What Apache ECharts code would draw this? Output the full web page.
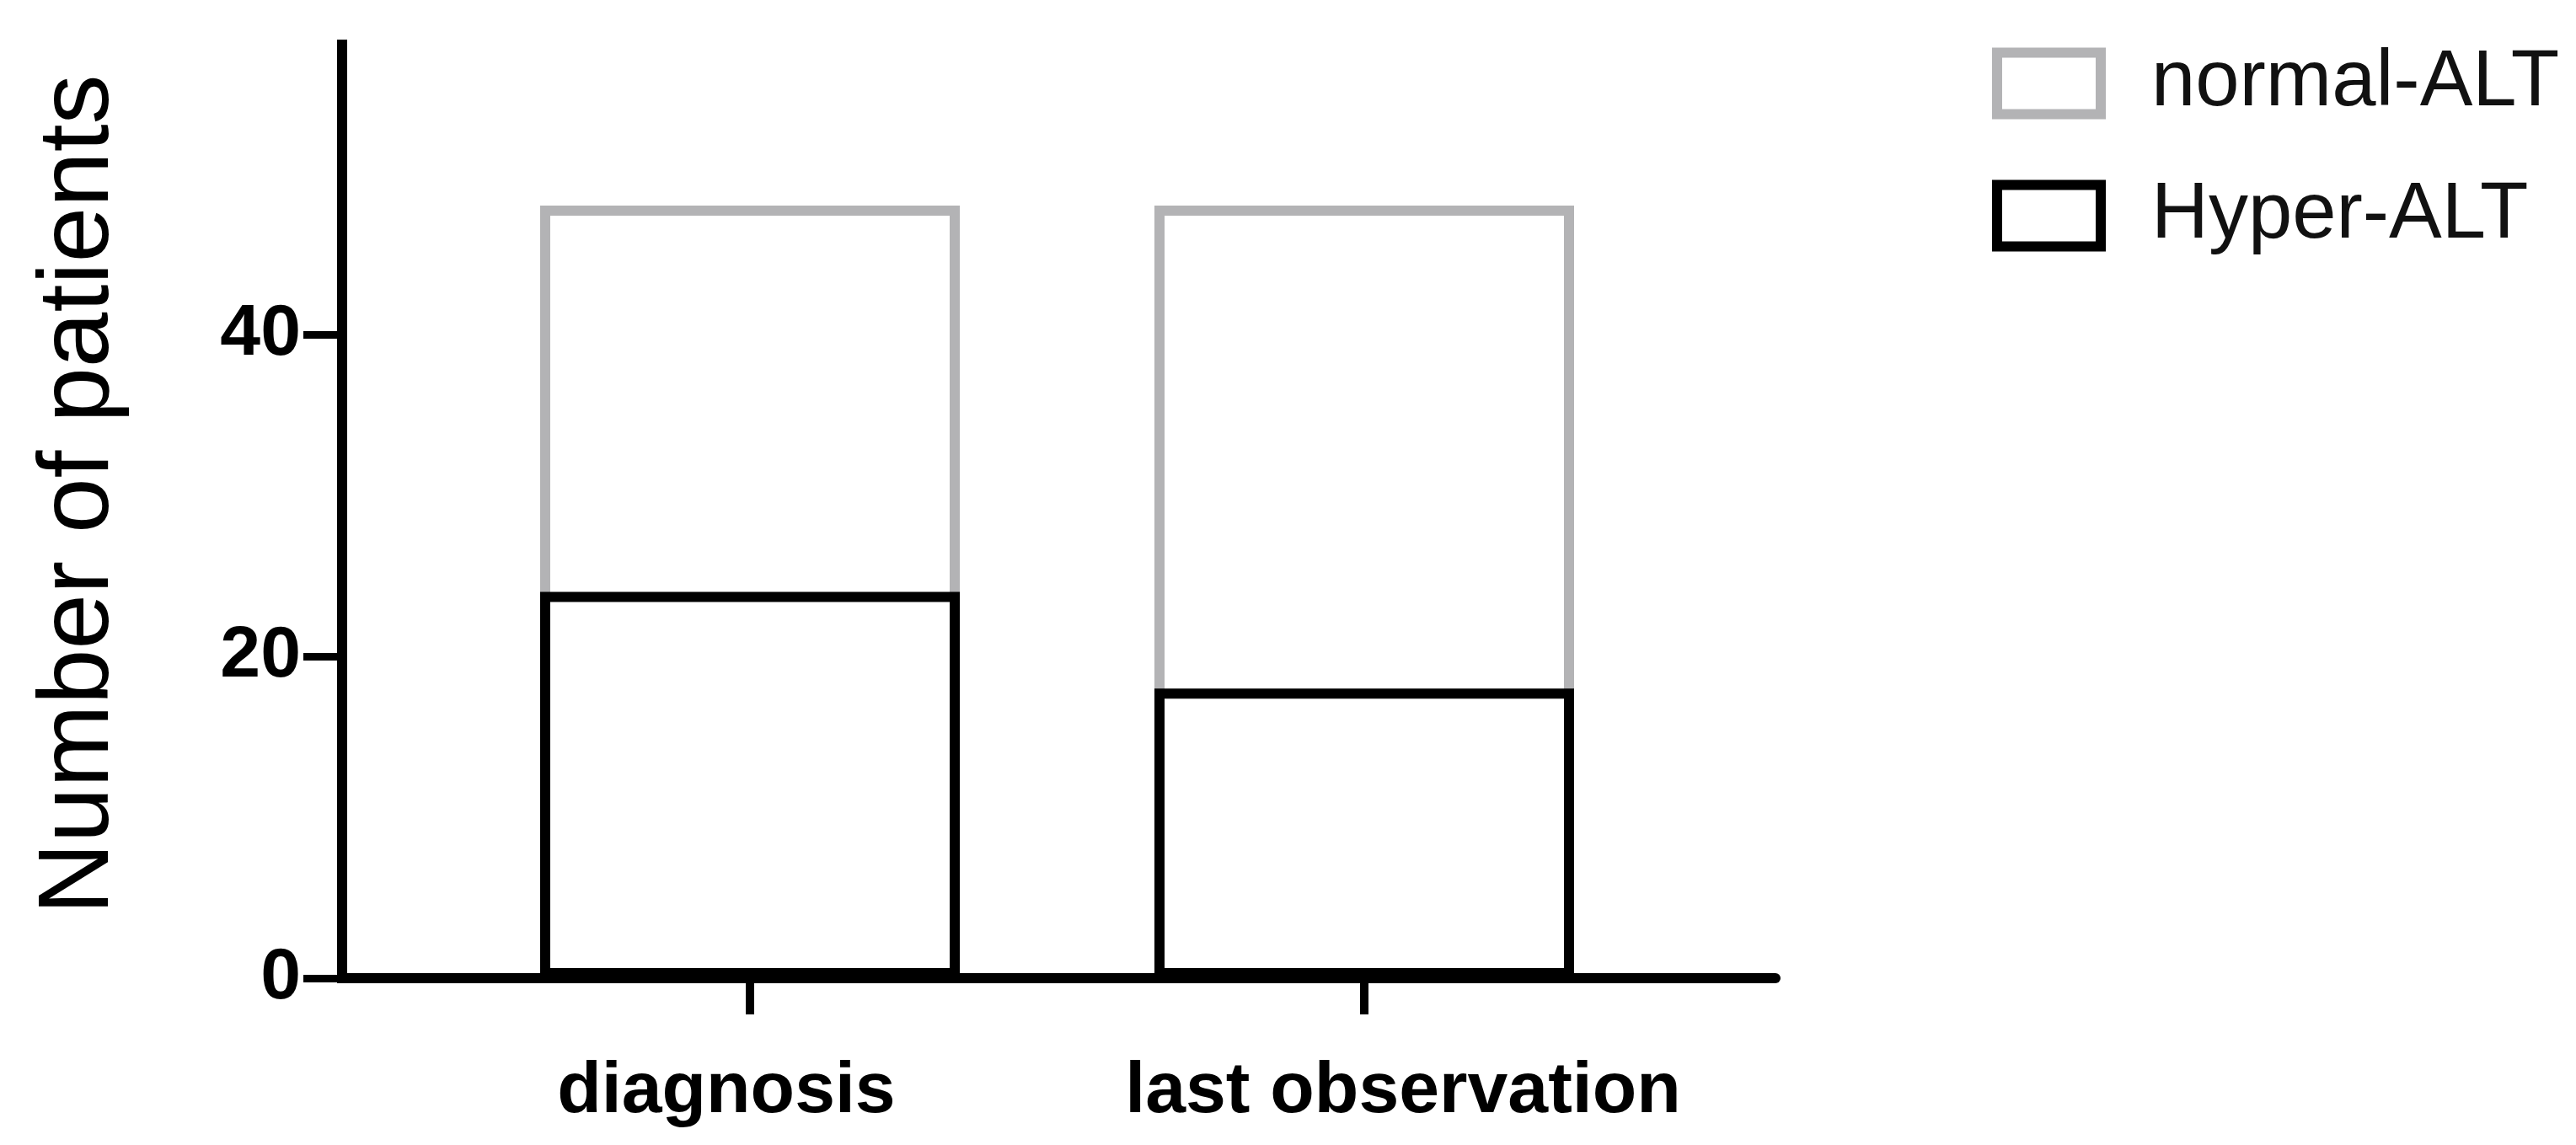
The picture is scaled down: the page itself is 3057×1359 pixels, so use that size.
<!DOCTYPE html>
<html>
<head>
<meta charset="utf-8">
<script src="https://cdn.jsdelivr.net/npm/echarts@6/dist/echarts.min.js"></script>
<style>
  html, body { margin: 0; padding: 0; background: #ffffff; }
  #chart { width: 3057px; height: 1359px; }
</style>
</head>
<body>
<div id="chart"></div>
<script>
// ---- data ----
const categories = ['diagnosis', 'last observation'];
const hyperALT = [24, 18];        // black bars
const normalALT = [24, 30];       // grey part above the black bars
const yTickValues = [0, 20, 40];
const yAxisMax = 58;
const seriesNames = ['normal-ALT', 'Hyper-ALT'];

// grey outline spans the whole group (normal + hyper); the black bar is drawn over it
const totals = categories.map((_, i) => hyperALT[i] + normalALT[i]);

const FONT = "'Liberation Sans', Arial, sans-serif";
const GREY = '#b3b3b5';
const BLACK = '#000000';

const chart = echarts.init(document.getElementById('chart'), null, { renderer: 'canvas' });

const option = {
  backgroundColor: '#ffffff',
  animation: false,
  grid: [
    { left: 525.5, right: 1073.5, top: 53, bottom: 198, containLabel: false },
    { left: 406, right: 950, top: 53, bottom: 198, containLabel: false }
  ],
  legend: {
    orient: 'vertical',
    left: 2359,
    top: 47,
    icon: 'rect',
    itemWidth: 123,
    itemHeight: 73,
    itemGap: 63,
    selectedMode: false,
    textStyle: {
      fontFamily: FONT,
      fontSize: 94,
      color: '#111111',
      lineHeight: 70,
      padding: [0, 0, 0, 55]
    },
    data: [
      { name: seriesNames[0], itemStyle: { color: '#ffffff', borderColor: GREY, borderWidth: 12 } },
      { name: seriesNames[1], itemStyle: { color: '#ffffff', borderColor: BLACK, borderWidth: 12 } }
    ]
  },
  xAxis: [
    {
      type: 'category',
      gridIndex: 0,
      data: categories,
      boundaryGap: true,
      axisLine: { show: false },
      axisTick: { show: true, interval: 0, alignWithLabel: true, inside: false, length: 43,
                  lineStyle: { color: BLACK, width: 10 } },
      axisLabel: {
        show: true,
        interval: 0,
        hideOverlap: false,
        margin: 92,
        color: BLACK,
        fontFamily: FONT,
        fontSize: 86,
        fontWeight: 'bold',
        formatter: function (v) {
          return v === categories[0] ? '{a|' + v + '}' : '{b|' + v + '}';
        },
        rich: {
          a: { fontFamily: FONT, fontSize: 86, fontWeight: 'bold', color: BLACK, padding: [0, 56, 0, 0] },
          b: { fontFamily: FONT, fontSize: 86, fontWeight: 'bold', color: BLACK, padding: [0, 0, 0, 92] }
        }
      },
      splitLine: { show: false }
    },
    {
      type: 'value',
      gridIndex: 1,
      min: 0,
      max: 1,
      axisLine: { show: true, onZero: false, lineStyle: { color: BLACK, width: 12 } },
      axisTick: { show: false },
      axisLabel: { show: false },
      splitLine: { show: false }
    }
  ],
  yAxis: [
    {
      type: 'value',
      gridIndex: 0,
      min: 0,
      max: yAxisMax,
      interval: 20,
      offset: 119.5,
      name: 'Number of patients',
      nameLocation: 'middle',
      nameGap: 252,
      nameTextStyle: {
        fontFamily: FONT,
        fontSize: 118,
        color: BLACK,
        padding: [0, 0, 0, 40]
      },
      axisLine: { show: true, lineStyle: { color: BLACK, width: 12, cap: 'square' } },
      axisTick: { show: true, inside: false, length: 46, customValues: yTickValues,
                  lineStyle: { color: BLACK, width: 9 } },
      axisLabel: {
        show: true,
        margin: 49,
        customValues: yTickValues,
        color: BLACK,
        fontFamily: FONT,
        fontSize: 86,
        fontWeight: 'bold'
      },
      splitLine: { show: false }
    },
    {
      type: 'value',
      gridIndex: 1,
      min: 0,
      max: yAxisMax,
      show: false
    }
  ],
  series: [
    {
      name: seriesNames[0],
      type: 'bar',
      xAxisIndex: 0,
      yAxisIndex: 0,
      data: totals,
      barWidth: 498,
      barGap: '-100%',
      z: 2,
      itemStyle: { color: '#ffffff', borderColor: GREY, borderWidth: 12 }
    },
    {
      name: seriesNames[1],
      type: 'bar',
      xAxisIndex: 0,
      yAxisIndex: 0,
      data: hyperALT,
      barWidth: 498,
      barGap: '-100%',
      z: 3,
      itemStyle: { color: '#ffffff', borderColor: BLACK, borderWidth: 12 }
    }
  ]
};

chart.setOption(option);
</script>
</body>
</html>
